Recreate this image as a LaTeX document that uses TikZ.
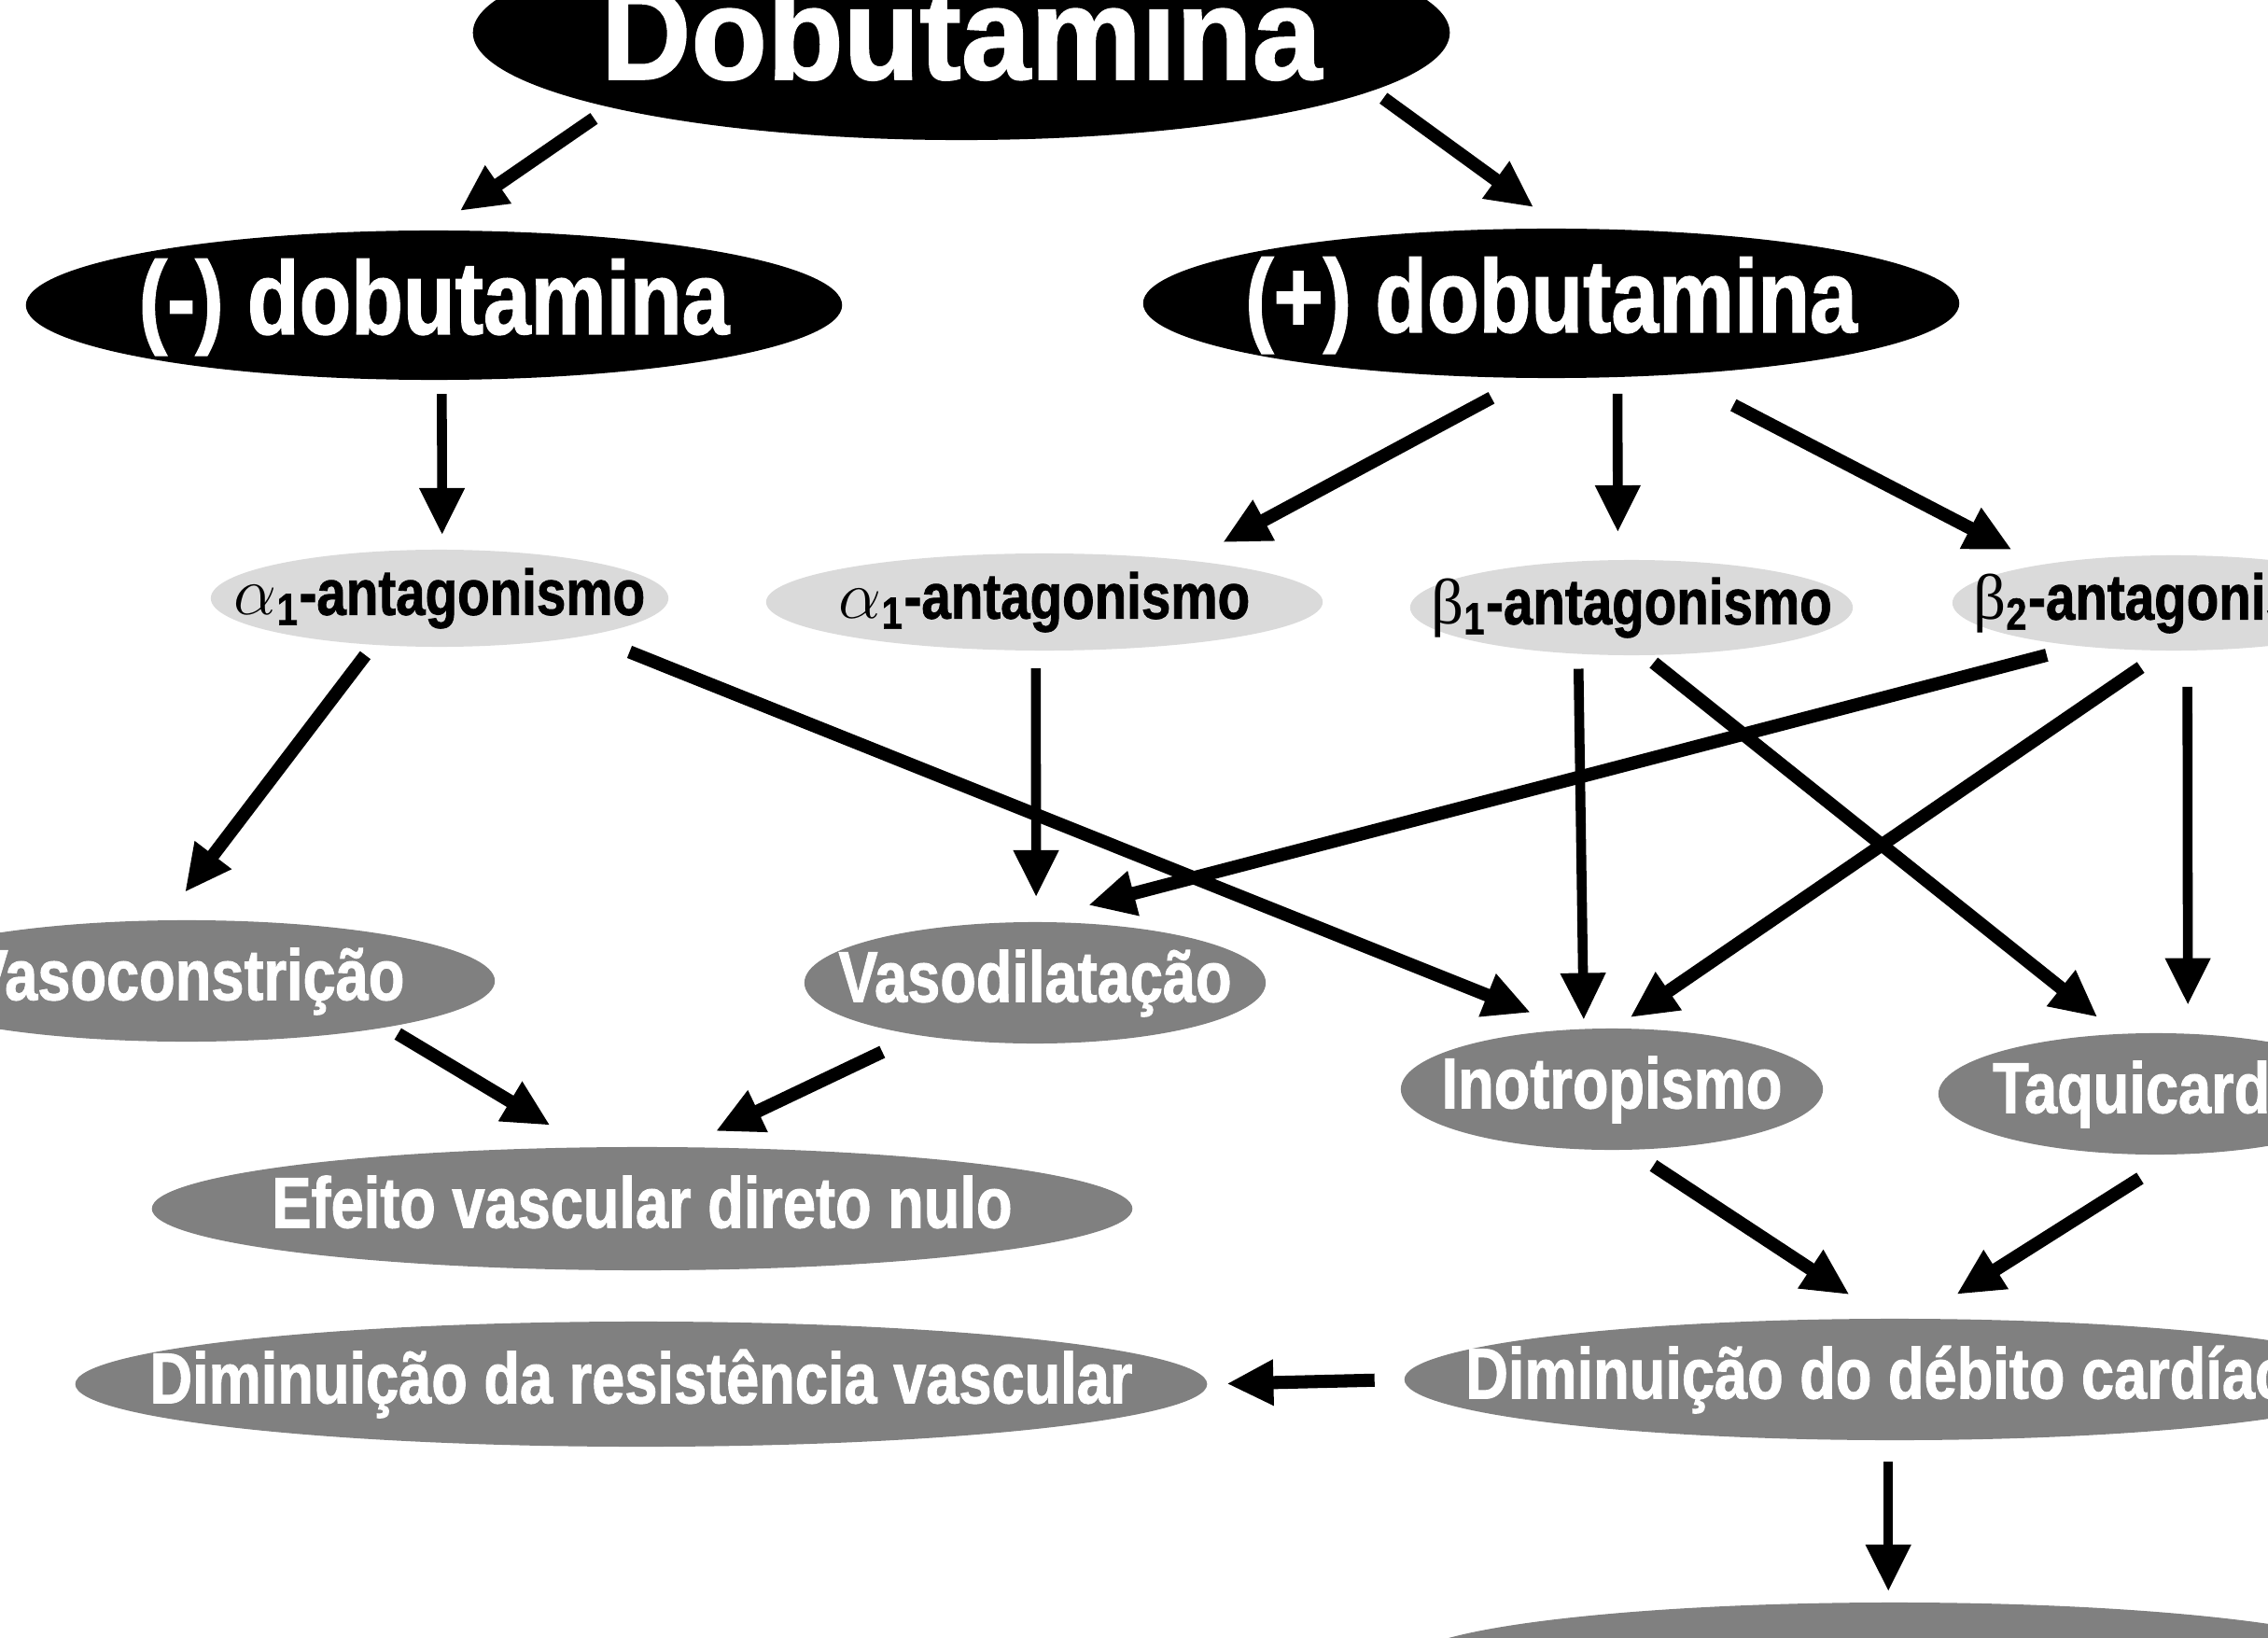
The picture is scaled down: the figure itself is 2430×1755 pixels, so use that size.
\documentclass[tikz,border=0pt]{standalone}
\usepackage{fontspec}
\usepackage{tikz}
\usetikzlibrary{shapes.geometric}
\usetikzlibrary{arrows.meta}
\newfontfamily\condfont{Liberation Sans Bold}[FakeStretch=0.82,FakeBold=1.2]
\newfontfamily\widefont{Liberation Sans Bold}[FakeStretch=0.95,FakeBold=1.2]
\newfontfamily\greekfont{Liberation Serif}
\newcommand{\ctr}[1]{\makebox[0pt]{#1}}
\definecolor{receptorgray}{RGB}{218,218,218}
\definecolor{effectgray}{RGB}{128,128,128}
\tikzset{
  every node/.style = {ellipse, inner sep=0pt, outer sep=0pt},
  drug/.style = {fill=black, text=white, text height=22pt, text depth=4.4pt,
    font=\condfont\fontsize{31.6pt}{36pt}\selectfont},
  receptor/.style = {fill=receptorgray, text=black, text height=14pt, text depth=3.9pt,
    font=\condfont\fontsize{19.6pt}{24pt}\selectfont},
  effect/.style = {fill=effectgray, text=white, text height=17pt, text depth=5.4pt,
    font=\condfont\fontsize{21.9pt}{26pt}\selectfont},
  thin arrow/.style = {line width=3pt},
  thick arrow/.style = {line width=4pt},
}

\begin{document}
\begin{tikzpicture}[->,>={Triangle[length=5mm,width=4.6mm]},x=0.01cm,y=-0.01cm]
  \useasboundingbox (0,0) rectangle (2430,1755);

  \node[drug, font=\widefont\fontsize{40pt}{44pt}\selectfont, text height=30pt, text depth=1.6pt,
    minimum width=10.46cm, minimum height=2.3cm] (dobut) at (1030,35) {\ctr{Dobutamina}};
  \node[drug, minimum width=8.74cm, minimum height=1.6cm] (neg) at (465,327) {\ctr{(-) dobutamina}};
  \node[drug, minimum width=8.74cm, minimum height=1.6cm] (pos) at (1662,325) {\ctr{(+) dobutamina}};

  \node[receptor, minimum width=4.9cm, minimum height=1.04cm] (alphaneg) at (471,641)
    {\ctr{$\alpha$\textsubscript{1}-antagonismo}};
  \node[receptor, minimum width=5.96cm, minimum height=1.04cm] (alphapos) at (1119,645)
    {\ctr{$\alpha$\textsubscript{1}-antagonismo}};
  \node[receptor, minimum width=4.74cm, minimum height=1.02cm] (betaone) at (1748,651)
    {\ctr{{\greekfont β}\textsubscript{1}-antagonismo}};
  \node[receptor, minimum width=4.74cm, minimum height=1.02cm] (betatwo) at (2329,646)
    {\ctr{{\greekfont β}\textsubscript{2}-antagonismo}};

  \node[effect, minimum width=6.6cm, minimum height=1.3cm] (vcon) at (200,1051) {\ctr{Vasoconstrição}};
  \node[effect, minimum width=4.94cm, minimum height=1.3cm] (vdil) at (1109,1053) {\ctr{Vasodilatação}};
  \node[effect, minimum width=4.52cm, minimum height=1.3cm] (inotr) at (1727,1167) {\ctr{Inotropismo}};
  \node[effect, minimum width=4.66cm, minimum height=1.3cm] (taqui) at (2310,1172) {\ctr{Taquicardia}};
  \node[effect, minimum width=10.5cm, minimum height=1.32cm] (nulo) at (688,1295)
    {\ctr{Efeito vascular direto nulo}};
  \node[effect, minimum width=12.12cm, minimum height=1.34cm] (resist) at (687,1483)
    {\ctr{Diminuição da resistência vascular}};
  \node[effect, minimum width=10.5cm, minimum height=1.3cm] (debito) at (2030,1478)
    {\ctr{Diminuição do débito cardíaco}};
  \node[effect, minimum width=10.5cm, minimum height=1.3cm] (final) at (2030,1782) {};

  \draw[thick arrow, shorten <=0.21cm, shorten >=0.37cm] (dobut.192) -- (neg.92);
  \draw[thick arrow, shorten <=0.14cm, shorten >=0.39cm] (dobut.352) -- (pos.81);
  \draw[thin arrow, shorten <=0.15cm, shorten >=0.16cm] (neg.276) -- (alphaneg.87);
  \draw[thick arrow, shorten <=0.45cm, shorten >=0.41cm] (pos.253) -- (alphapos.16);
  \draw[thin arrow, shorten <=0.18cm, shorten >=0.30cm] (pos.312) -- (betaone.106);
  \draw[thick arrow, shorten <=0.71cm, shorten >=0.35cm] (pos.330) -- (betatwo.164);
  \draw[thick arrow, shorten <=0.14cm, shorten >=0.38cm] (alphaneg.215) -- (vcon.111);
  \draw[thick arrow, shorten <=0.48cm, shorten >=0.49cm] (alphaneg.346) -- (inotr.123);
  \draw[thin arrow, shorten <=0.19cm, shorten >=0.27cm] (alphapos.260) -- (vdil.89);
  \draw[thick arrow, shorten <=0.38cm, shorten >=0.72cm] (betatwo.205) -- (vdil.101);
  \draw[thin arrow, shorten <=0.16cm, shorten >=0.10cm] (betaone.221) -- (inotr.115);
  \draw[thick arrow, shorten <=0.13cm, shorten >=0.29cm] (betaone.285) -- (taqui.122);
  \draw[thick arrow, shorten <=0.32cm, shorten >=0.21cm] (betatwo.260) -- (inotr.88);
  \draw[thin arrow, shorten <=0.39cm, shorten >=0.31cm] (betatwo.286) -- (taqui.62);
  \draw[thick arrow, shorten <=0.14cm, shorten >=0.46cm] (vcon.347) -- (nulo.132);
  \draw[thick arrow, shorten <=0.42cm, shorten >=0.40cm] (vdil.204) -- (nulo.57);
  \draw[thick arrow, shorten <=0.31cm, shorten >=0.47cm] (inotr.286) -- (debito.98);
  \draw[thick arrow, shorten <=0.48cm, shorten >=0.49cm] (taqui.290) -- (debito.69);
  \draw[thick arrow, shorten <=0.32cm, shorten >=0.21cm] (debito.west) -- (resist.east);
  \draw[thin arrow, shorten <=0.23cm, shorten >=0.12cm] (debito.264) -- (final.96);
\end{tikzpicture}
\end{document}
